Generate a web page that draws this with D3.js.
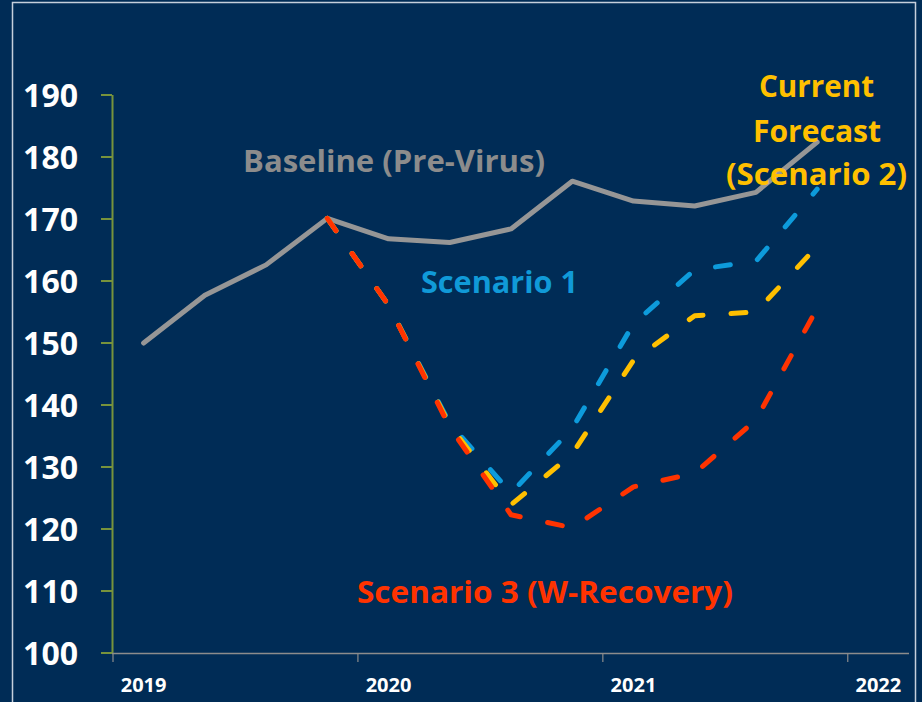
<!DOCTYPE html>
<html>
<head>
<meta charset="utf-8">
<title>Scenarios</title>
<script src="https://d3js.org/d3.v7.min.js"></script>
<style>
	body {margin:0; background:#002c56;}
	svg text {font-family:"Open Sans", sans-serif; font-weight:bold;}
</style>
</head>
<body>
<div id="mydiv"></div>
<script>
// quarters on the x axis (2019 Q1 .. 2022 Q1)
var quarters = ["2019Q1","2019Q2","2019Q3","2019Q4","2020Q1","2020Q2","2020Q3","2020Q4",
                "2021Q1","2021Q2","2021Q3","2021Q4","2022Q1"];
var yearLabels = ["2019","2020","2021","2022"];
var yTicks = [100,110,120,130,140,150,160,170,180,190];

var baseline  = [150.0,157.7,162.6,170.1,166.8,166.2,168.4,176.1,172.9,172.1,174.3,182.4];
// scenarios start at 2019 Q4
var scenario1 = [170.1,156.1,137.0,125.8,136.2,153.1,161.8,163.2,174.8];
var scenario2 = [170.1,156.1,136.7,123.9,132.1,147.2,154.4,155.0,165.6];
var scenario3 = [170.1,156.1,136.4,122.3,120.2,126.8,129.0,137.6,155.6];

var width = 922, height = 702;

var svg = d3.select("#mydiv").append("svg")
	.attr("width", width)
	.attr("height", height);

svg.append("rect")
	.attr("width", width).attr("height", height)
	.attr("fill", "#002c56");

// thin frame
svg.append("rect")
	.attr("x", 12.5).attr("y", 2.5)
	.attr("width", 903).attr("height", 720)
	.attr("fill", "none")
	.attr("stroke", "#c5cfdc")
	.attr("stroke-width", 1.5);

var x = d3.scaleBand().domain(quarters).range([113, 909]);
var y = d3.scaleLinear().domain([100,190]).range([653, 95]);
var cx = function(q) { return x(q) + x.bandwidth()/2; };

// y axis
var yAxis = svg.append("g");
yAxis.append("line")
	.attr("x1", 112.5).attr("x2", 112.5)
	.attr("y1", y(190)).attr("y2", y(100))
	.attr("stroke", "#77933c").attr("stroke-width", 2);
yAxis.selectAll("line.tick").data(yTicks).enter()
	.append("line")
	.attr("class", "tick")
	.attr("x1", 101).attr("x2", 112)
	.attr("y1", function(d) { return y(d); })
	.attr("y2", function(d) { return y(d); })
	.attr("stroke", "#77933c").attr("stroke-width", 2);
yAxis.selectAll("text").data(yTicks).enter()
	.append("text")
	.attr("x", 78)
	.attr("y", function(d) { return y(d) + 11.5; })
	.attr("text-anchor", "end")
	.attr("font-size", 32)
	.attr("fill", "white")
	.text(function(d) { return d; });

// x axis
var yearStarts = quarters.filter(function(q) { return q.slice(4) == "Q1"; });
var xAxis = svg.append("g");
xAxis.append("line")
	.attr("x1", 112).attr("x2", 909)
	.attr("y1", 653.5).attr("y2", 653.5)
	.attr("stroke", "#8c8c8c").attr("stroke-width", 1.5);
xAxis.selectAll("line.tick").data(yearStarts).enter()
	.append("line")
	.attr("class", "tick")
	.attr("x1", function(d) { return x(d); })
	.attr("x2", function(d) { return x(d); })
	.attr("y1", 653).attr("y2", 662)
	.attr("stroke", "#8c8c8c").attr("stroke-width", 1.2);
xAxis.selectAll("text").data(yearStarts).enter()
	.append("text")
	.attr("x", function(d) { return cx(d); })
	.attr("y", 692)
	.attr("text-anchor", "middle")
	.attr("font-size", 20)
	.attr("fill", "white")
	.text(function(d, i) { return yearLabels[i]; });

var line = d3.line()
	.x(function(d) { return cx(d.q); })
	.y(function(d) { return y(d.v); });

function pts(values, start) {
	return values.map(function(v, i) { return {q: quarters[start + i], v: v}; });
}

svg.append("path")
	.datum(pts(baseline, 0))
	.attr("d", line)
	.attr("fill", "none")
	.attr("stroke", "#969696")
	.attr("stroke-width", 5)
	.attr("stroke-linecap", "round")
	.attr("stroke-linejoin", "round");

var scen = [
	{values: scenario1, color: "#0d9bdb"},
	{values: scenario2, color: "#ffc000"},
	{values: scenario3, color: "#ff3300"}
];
svg.selectAll("path.scen").data(scen).enter()
	.append("path")
	.attr("class", "scen")
	.attr("d", function(d) { return line(pts(d.values, 3)); })
	.attr("fill", "none")
	.attr("stroke", function(d) { return d.color; })
	.attr("stroke-width", 5)
	.attr("stroke-dasharray", "15,28")
	.attr("stroke-linecap", "round")
	.attr("stroke-linejoin", "round");

// annotations
var notes = [
	{t: "Baseline (Pre-Virus)", x: 243, y: 172, w: 302, c: "#8c8c8c"},
	{t: "Scenario 1", x: 421, y: 293, w: 157, c: "#109ad8"},
	{t: "Current", x: 759, y: 97, w: 115, c: "#ffc000"},
	{t: "Forecast", x: 753, y: 142, w: 128, c: "#ffc000"},
	{t: "(Scenario 2)", x: 726, y: 185, w: 181, c: "#ffc000"},
	{t: "Scenario 3 (W-Recovery)", x: 357, y: 603, w: 376, c: "#ff3300"}
];
svg.selectAll("text.note").data(notes).enter()
	.append("text")
	.attr("class", "note")
	.attr("x", function(d) { return d.x; })
	.attr("y", function(d) { return d.y; })
	.attr("font-size", 31)
	.attr("textLength", function(d) { return d.w; })
	.attr("lengthAdjust", "spacingAndGlyphs")
	.attr("fill", function(d) { return d.c; })
	.text(function(d) { return d.t; });
</script>
</body>
</html>
